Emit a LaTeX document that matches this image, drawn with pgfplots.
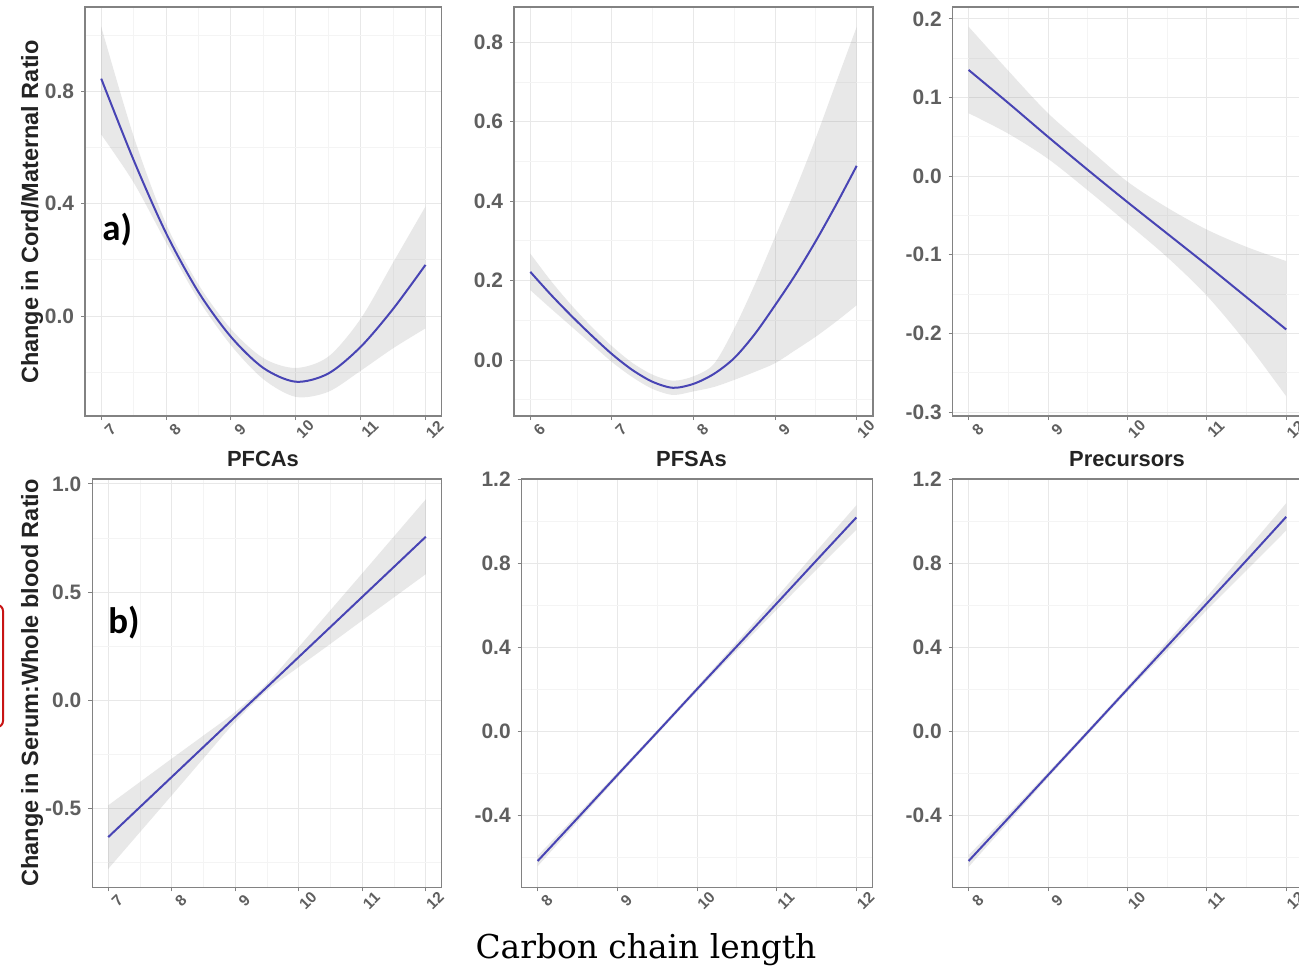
\documentclass[border=0pt]{standalone}
\usepackage{fontspec}
\setmainfont{Liberation Sans}
\newfontfamily\calfont{Carlito}
\newfontfamily\slabfont{DejaVu Serif}
\usepackage{pgfplots}
\pgfplotsset{compat=1.18}
\usepackage{pgfplotstable}
\usepgfplotslibrary{fillbetween}

\definecolor{framegray}{RGB}{130,130,130}
\definecolor{gridmajor}{RGB}{232,232,232}
\definecolor{gridminor}{RGB}{244,244,244}
\definecolor{linecol}{RGB}{72,68,180}
\definecolor{tickgray}{RGB}{95,95,95}
\definecolor{labcol}{RGB}{35,35,35}
\definecolor{redbox}{RGB}{200,20,20}

% PFCAs, cord/maternal
\pgfplotstableread{
x y lo hi
7 0.845 0.646 1.030
7.5 0.555 0.475 0.640
8 0.295 0.262 0.328
8.5 0.085 0.058 0.112
9 -0.074 -0.104 -0.046
9.5 -0.185 -0.225 -0.150
10 -0.234 -0.288 -0.185
10.5 -0.205 -0.270 -0.145
11 -0.110 -0.195 -0.010
11.5 0.025 -0.115 0.190
12 0.182 -0.044 0.390
}\tA
% PFSAs, cord/maternal
\pgfplotstableread{
x y lo hi
6 0.222 0.176 0.268
6.25 0.165 0.130 0.200
6.5 0.112 0.085 0.139
6.75 0.062 0.040 0.084
7 0.015 -0.005 0.035
7.25 -0.025 -0.043 -0.007
7.5 -0.055 -0.073 -0.037
7.75 -0.070 -0.088 -0.052
8 -0.060 -0.079 -0.041
8.25 -0.035 -0.068 -0.010
8.5 0.005 -0.050 0.080
8.75 0.065 -0.030 0.190
9 0.138 -0.008 0.310
9.25 0.215 0.025 0.430
9.5 0.300 0.059 0.560
9.75 0.392 0.097 0.700
10 0.489 0.138 0.839
}\tB
% Precursors, cord/maternal
\pgfplotstableread{
x y lo hi
8 0.135 0.080 0.190
8.5 0.093 0.054 0.134
9 0.050 0.022 0.080
9.5 0.008 -0.018 0.036
10 -0.033 -0.060 -0.007
10.5 -0.073 -0.103 -0.040
11 -0.113 -0.152 -0.068
11.5 -0.154 -0.212 -0.090
12 -0.195 -0.280 -0.108
}\tC
% PFCAs, serum:whole blood
\pgfplotstableread{
x y lo hi
7 -0.633 -0.780 -0.486
7.5 -0.494 -0.610 -0.378
8 -0.355 -0.440 -0.270
8.5 -0.216 -0.269 -0.163
9 -0.077 -0.100 -0.054
9.5 0.061 0.044 0.078
10 0.200 0.154 0.246
10.5 0.339 0.261 0.417
11 0.478 0.369 0.587
11.5 0.617 0.476 0.758
12 0.756 0.583 0.929
}\tD
% PFSAs, serum:whole blood
\pgfplotstableread{
x y lo hi
8 -0.618 -0.643 -0.593
8.5 -0.414 -0.432 -0.396
9 -0.209 -0.221 -0.197
9.5 -0.005 -0.015 0.005
10 0.200 0.188 0.212
10.5 0.404 0.384 0.424
11 0.608 0.578 0.638
11.5 0.813 0.769 0.857
12 1.017 0.959 1.075
}\tE
% Precursors, serum:whole blood
\pgfplotstableread{
x y lo hi
8 -0.618 -0.646 -0.590
8.5 -0.414 -0.434 -0.394
9 -0.209 -0.222 -0.196
9.5 -0.005 -0.016 0.006
10 0.200 0.187 0.213
10.5 0.404 0.382 0.426
11 0.608 0.576 0.640
11.5 0.813 0.765 0.861
12 1.020 0.955 1.085
}\tF

\pgfplotsset{
  panel/.style={
    scale only axis,
    anchor=south west,
    axis line style={draw=framegray, line width=0.7bp},
    tick style={draw=framegray, line width=0.5bp},
    tick align=outside,
    major tick length=2bp,
    minor tick length=0pt,
    xtick pos=left, ytick pos=left,
    grid=both,
    major grid style={draw=gridmajor, line width=0.5bp},
    minor grid style={draw=gridminor, line width=0.4bp},
    /pgf/number format/assume math mode=true,
    yticklabel style={font=\fontsize{10.5}{12}\selectfont\bfseries, text=tickgray,
      /pgf/number format/fixed, /pgf/number format/fixed zerofill,
      /pgf/number format/precision=1},
    xticklabel style={font=\fontsize{7.8}{9}\selectfont\bfseries, text=tickgray,
      rotate=45, anchor=center, yshift=-6.5bp, inner sep=0pt},
  },
  hiP/.style={draw=none, smooth, name path=hi},
  loP/.style={draw=none, smooth, name path=lo},
  bandP/.style={fill=black!50, fill opacity=0.18, draw=none},
  lineP/.style={draw=linecol, line width=1bp, smooth, no marks},
}

\begin{document}
\begin{tikzpicture}
% ---- top row ----
\begin{axis}[panel, at={(42.5bp,-208bp)}, width=178.35bp, height=204.5bp,
  xmin=6.75, xmax=12.25, ymin=-0.356, ymax=1.10,
  xtick={7,8,9,10,11,12}, minor xtick={7.5,8.5,9.5,10.5,11.5},
  ytick={0,0.4,0.8}, minor ytick={-0.2,0.2,0.6,1.0}]
\addplot[hiP] table[x=x,y=hi]{\tA};
\addplot[loP] table[x=x,y=lo]{\tA};
\addplot[bandP] fill between[of=hi and lo];
\addplot[lineP] table[x=x,y=y]{\tA};
\end{axis}
\begin{axis}[panel, at={(257bp,-208bp)}, width=179.5bp, height=204.5bp,
  xmin=5.8, xmax=10.2, ymin=-0.141, ymax=0.889,
  xtick={6,7,8,9,10}, minor xtick={6.5,7.5,8.5,9.5},
  ytick={0,0.2,0.4,0.6,0.8}, minor ytick={-0.1,0.1,0.3,0.5,0.7}]
\addplot[hiP] table[x=x,y=hi]{\tB};
\addplot[loP] table[x=x,y=lo]{\tB};
\addplot[bandP] fill between[of=hi and lo];
\addplot[lineP] table[x=x,y=y]{\tB};
\end{axis}
\begin{axis}[panel, at={(476.35bp,-208bp)}, width=174.7bp, height=204.5bp,
  xmin=7.8, xmax=12.2, ymin=-0.305, ymax=0.215,
  xtick={8,9,10,11,12}, minor xtick={8.5,9.5,10.5,11.5},
  ytick={-0.3,-0.2,-0.1,0,0.1,0.2}, minor ytick={-0.25,-0.15,-0.05,0.05,0.15}]
\addplot[hiP] table[x=x,y=hi]{\tC};
\addplot[loP] table[x=x,y=lo]{\tC};
\addplot[bandP] fill between[of=hi and lo];
\addplot[lineP] table[x=x,y=y]{\tC};
\end{axis}
% ---- bottom row ----
\begin{axis}[panel, at={(46.15bp,-443.65bp)}, width=174.7bp, height=204.15bp,
  xmin=6.75, xmax=12.25, ymin=-0.865, ymax=1.023,
  xtick={7,8,9,10,11,12}, minor xtick={7.5,8.5,9.5,10.5,11.5},
  ytick={-0.5,0,0.5,1}, minor ytick={-0.75,-0.25,0.25,0.75}]
\addplot[hiP] table[x=x,y=hi]{\tD};
\addplot[loP] table[x=x,y=lo]{\tD};
\addplot[bandP] fill between[of=hi and lo];
\addplot[lineP] table[x=x,y=y]{\tD};
\end{axis}
\begin{axis}[panel, at={(260.85bp,-443.65bp)}, width=175.3bp, height=204.15bp,
  xmin=7.8, xmax=12.2, ymin=-0.743, ymax=1.2,
  xtick={8,9,10,11,12}, minor xtick={8.5,9.5,10.5,11.5},
  ytick={-0.4,0,0.4,0.8,1.2}, minor ytick={-0.6,-0.2,0.2,0.6,1.0}]
\addplot[hiP] table[x=x,y=hi]{\tE};
\addplot[loP] table[x=x,y=lo]{\tE};
\addplot[bandP] fill between[of=hi and lo];
\addplot[lineP] table[x=x,y=y]{\tE};
\end{axis}
\begin{axis}[panel, at={(476.35bp,-443.65bp)}, width=174.7bp, height=204.15bp,
  xmin=7.8, xmax=12.2, ymin=-0.743, ymax=1.2,
  xtick={8,9,10,11,12}, minor xtick={8.5,9.5,10.5,11.5},
  ytick={-0.4,0,0.4,0.8,1.2}, minor ytick={-0.6,-0.2,0.2,0.6,1.0}]
\addplot[hiP] table[x=x,y=hi]{\tF};
\addplot[loP] table[x=x,y=lo]{\tF};
\addplot[bandP] fill between[of=hi and lo];
\addplot[lineP] table[x=x,y=y]{\tF};
\end{axis}
% ---- labels ----
\node[rotate=90, text=labcol, font=\fontsize{11.8}{13}\selectfont\bfseries] at (16bp,-106bp) {Change in Cord/Maternal Ratio};
\node[rotate=90, text=labcol, font=\fontsize{11.8}{13}\selectfont\bfseries] at (16bp,-341.5bp) {Change in Serum:Whole blood Ratio};
\node[text=labcol, font=\fontsize{11}{12}\selectfont\bfseries] at (131.5bp,-229.5bp) {PFCAs};
\node[text=labcol, font=\fontsize{11}{12}\selectfont\bfseries] at (345.75bp,-229.5bp) {PFSAs};
\node[text=labcol, font=\fontsize{11}{12}\selectfont\bfseries] at (563.5bp,-229.5bp) {Precursors};
\node[anchor=base west, inner sep=0pt, font=\calfont\fontsize{18.5}{20}\selectfont\bfseries] at (51bp,-120bp) {a)};
\node[anchor=base west, inner sep=0pt, font=\calfont\fontsize{18.5}{20}\selectfont\bfseries] at (54bp,-316.5bp) {b)};
\node[font=\slabfont\fontsize{16.5}{18}\selectfont] at (323bp,-475bp) {Carbon chain length};
\draw[redbox, line width=1bp, rounded corners=3bp] (-6bp,-302.5bp) -- (1.5bp,-302.5bp) -- (1.5bp,-363.5bp) -- (-6bp,-363.5bp);
\pgfresetboundingbox
\path[use as bounding box] (0bp,0bp) rectangle (649.5bp,-484.5bp);
\end{tikzpicture}
\end{document}
